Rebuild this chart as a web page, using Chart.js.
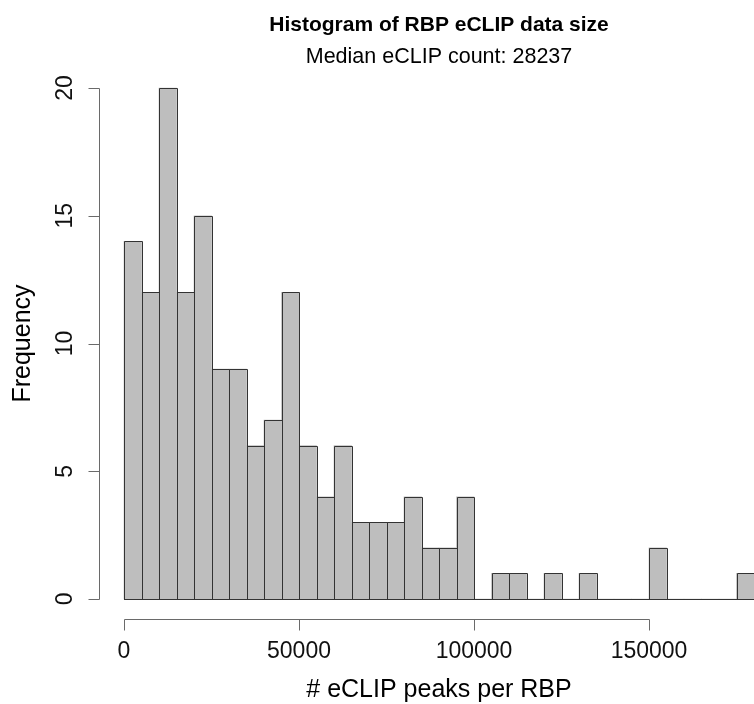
<!DOCTYPE html>
<html>
<head>
<meta charset="utf-8">
<script src="https://cdn.jsdelivr.net/npm/chart.js@4/dist/chart.umd.min.js"></script>
<style>
html,body{margin:0;padding:0;background:#ffffff;}
#wrap{width:754px;height:704px;position:relative;}
</style>
</head>
<body>
<div id="wrap"><canvas id="c" width="754" height="704"></canvas></div>
<script>
// ---- data ----
const binStarts = [0,5000,10000,15000,20000,25000,30000,35000,40000,45000,
  50000,55000,60000,65000,70000,75000,80000,85000,90000,95000,
  100000,105000,110000,115000,120000,125000,130000,135000,140000,145000,
  150000,155000,160000,165000,170000,175000];
const binEnds = [5000,10000,15000,20000,25000,30000,35000,40000,45000,50000,
  55000,60000,65000,70000,75000,80000,85000,90000,95000,100000,
  105000,110000,115000,120000,125000,130000,135000,140000,145000,150000,
  155000,160000,165000,170000,175000,180000];
const counts = [14,12,20,12,15,9,9,6,7,12,
  6,4,6,3,3,3,4,2,2,4,
  0,1,1,0,1,0,1,0,0,0,
  2,0,0,0,0,1];
const xTicks = [0,50000,100000,150000];
const yTicks = [0,5,10,15,20];
const titleText = "Histogram of RBP eCLIP data size";
const subtitleText = "Median eCLIP count: 28237";
const xTitleText = "# eCLIP peaks per RBP";
const yTitleText = "Frequency";

// ---- build ----
const points = counts.map((c, i) => ({x: (binStarts[i] + binEnds[i]) / 2, y: c}));
const xMin = binStarts[0], xMax = binEnds[binEnds.length - 1];
const xPad = (xMax - xMin) * 0.04;
const yMaxData = Math.max(...yTicks);
const yPad = yMaxData * 0.04;

const FONT = "'Liberation Sans', Arial, Helvetica, sans-serif";

const rAxesPlugin = {
  id: 'rAxes',
  afterDatasetsDraw(chart) {
    const ctx = chart.ctx;
    const xs = chart.scales.x, ys = chart.scales.y;
    const area = chart.chartArea;
    ctx.save();
    // outlines of bars (R style shared 1px edges)
    const meta = chart.getDatasetMeta(0);
    ctx.strokeStyle = '#333333';
    ctx.lineWidth = 1;
    meta.data.forEach((bar, i) => {
      const left = xs.getPixelForValue(binStarts[i]);
      const right = xs.getPixelForValue(binEnds[i]);
      const top = bar.y, base = bar.base;
      ctx.beginPath();
      ctx.rect(Math.round(left) + 0.5, Math.round(top) + 0.5,
               Math.round(right) - Math.round(left), Math.round(base) - Math.round(top));
      ctx.stroke();
    });
    // baseline across all bins (zero-height bins)
    const y0 = Math.round(ys.getPixelForValue(0)) + 0.5;
    ctx.beginPath();
    ctx.moveTo(xs.getPixelForValue(xMin), y0);
    ctx.lineTo(xs.getPixelForValue(xMax), y0);
    ctx.stroke();

    // axes
    ctx.strokeStyle = '#6a6a6a';
    ctx.fillStyle = '#111111';
    ctx.lineWidth = 1;
    const tickLen = 11;
    // y axis
    const ax = Math.round(area.left) + 0.5;
    ctx.beginPath();
    ctx.moveTo(ax, Math.round(ys.getPixelForValue(yTicks[0])) + 0.5);
    ctx.lineTo(ax, Math.round(ys.getPixelForValue(yTicks[yTicks.length - 1])) + 0.5);
    yTicks.forEach(v => {
      const py = Math.round(ys.getPixelForValue(v)) + 0.5;
      ctx.moveTo(ax, py);
      ctx.lineTo(ax - tickLen, py);
    });
    ctx.stroke();
    ctx.font = '23px ' + FONT;
    ctx.textAlign = 'center';
    ctx.textBaseline = 'alphabetic';
    yTicks.forEach(v => {
      const py = ys.getPixelForValue(v);
      ctx.save();
      ctx.translate(72, py);
      ctx.rotate(-Math.PI / 2);
      ctx.fillText(String(v), 0, 0);
      ctx.restore();
    });
    // x axis
    const ay = Math.round(area.bottom) + 0.5;
    ctx.beginPath();
    ctx.moveTo(Math.round(xs.getPixelForValue(xTicks[0])) + 0.5, ay);
    ctx.lineTo(Math.round(xs.getPixelForValue(xTicks[xTicks.length - 1])) + 0.5, ay);
    xTicks.forEach(v => {
      const px = Math.round(xs.getPixelForValue(v)) + 0.5;
      ctx.moveTo(px, ay);
      ctx.lineTo(px, ay + tickLen);
    });
    ctx.stroke();
    xTicks.forEach(v => {
      ctx.fillText(String(v), xs.getPixelForValue(v), 658);
    });
    // titles (centered on full plot region, which extends past canvas on right)
    const cx = (xs.getPixelForValue(xMin - xPad) + xs.getPixelForValue(xMax + xPad)) / 2;
    ctx.fillStyle = '#000000';
    ctx.font = 'bold 21px ' + FONT;
    ctx.fillText(titleText, cx, 31);
    ctx.font = '21.5px ' + FONT;
    ctx.fillText(subtitleText, cx, 63);
    ctx.font = '25px ' + FONT;
    ctx.fillText(xTitleText, cx, 697);
    ctx.save();
    ctx.translate(30, (area.top + area.bottom) / 2);
    ctx.rotate(-Math.PI / 2);
    ctx.fillText(yTitleText, 0, 0);
    ctx.restore();
    ctx.restore();
  }
};

new Chart(document.getElementById('c'), {
  type: 'bar',
  data: {
    datasets: [{
      data: points,
      backgroundColor: '#bebebe',
      borderWidth: 0,
      barPercentage: 1,
      categoryPercentage: 1
    }]
  },
  options: {
    responsive: false,
    animation: false,
    devicePixelRatio: 1,
    layout: { padding: { left: 98.8, right: 0, top: 67.6, bottom: 84.6 } },
    plugins: { legend: { display: false }, tooltip: { enabled: false }, title: { display: false } },
    scales: {
      x: { type: 'linear', min: xMin - xPad, max: xMax, offset: false, display: false },
      y: { type: 'linear', min: -yPad, max: yMaxData + yPad, display: false }
    }
  },
  plugins: [rAxesPlugin]
});
</script>
</body>
</html>
